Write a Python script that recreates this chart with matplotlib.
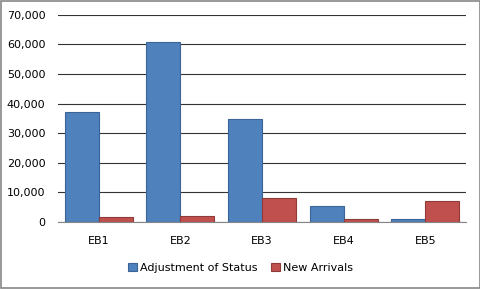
import numpy as np
import matplotlib.pyplot as plt
from matplotlib.ticker import FuncFormatter

categories = ['EB1', 'EB2', 'EB3', 'EB4', 'EB5']
adjustment = [37000, 60700, 34800, 5400, 900]
new_arrivals = [1600, 1900, 8000, 900, 7100]

fig = plt.figure(figsize=(4.81, 2.89), dpi=100)
ax = fig.add_axes([0.1206, 0.2318, 0.8484, 0.7175])

x = np.arange(len(categories))
w = 0.417
ax.bar(x - w / 2, adjustment, w, color='#4F81BD', edgecolor='#3A6496',
       linewidth=0.8, label='Adjustment of Status', zorder=3)
ax.bar(x + w / 2, new_arrivals, w, color='#C0504D', edgecolor='#8E3B39',
       linewidth=0.8, label='New Arrivals', zorder=3)

ax.set_xlim(-0.5, len(categories) - 0.5)
ax.set_ylim(0, 70000)
ax.set_yticks(np.arange(0, 70001, 10000))
ax.yaxis.set_major_formatter(FuncFormatter(lambda v, p: f'{int(v):,}'))
ax.set_xticks(x)
ax.set_xticklabels(categories)

ax.grid(axis='y', color='#333333', linewidth=0.8, zorder=0)
for s in ['top', 'right', 'left']:
    ax.spines[s].set_visible(False)
ax.spines['bottom'].set_color('#868686')
ax.spines['bottom'].set_zorder(4)
ax.tick_params(axis='both', length=0, labelsize=8, colors='#000000')
ax.tick_params(axis='x', pad=10)
ax.tick_params(axis='y', pad=9)

fig.legend(loc='center', bbox_to_anchor=(0.5, 0.073), ncol=2, frameon=False,
           fontsize=8, handlelength=0.8, handleheight=0.8,
           handletextpad=0.3, columnspacing=1.2)

border = plt.Rectangle((0.002, 0.003), 0.995, 0.994, transform=fig.transFigure,
                       fill=False, edgecolor='#868686', linewidth=1.2)
fig.patches.append(border)

fig.savefig('out.png', dpi=100)
